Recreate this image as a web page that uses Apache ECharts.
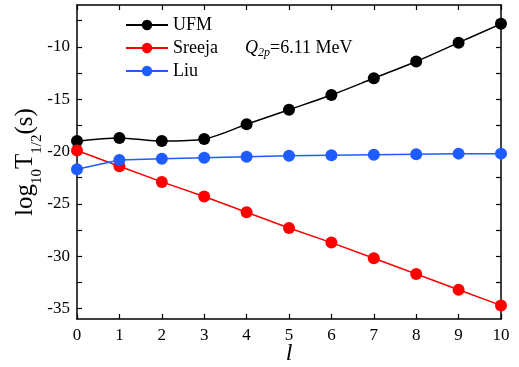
<!DOCTYPE html>
<html><head><meta charset="utf-8">
<script src="https://cdn.jsdelivr.net/npm/echarts@6/dist/echarts.min.js"></script>
<style>html,body{margin:0;padding:0;background:#fff}#c{width:519px;height:367px}</style>
</head><body><div id="c"></div>
<script>
var categories = [0,1,2,3,4,5,6,7,8,9,10];
var ufm    = [-19.0,-18.7,-19.0,-18.8,-17.4,-16.0,-14.6,-13.0,-11.4,-9.6,-7.8];
var sreeja = [-19.9,-21.4,-22.9,-24.3,-25.8,-27.3,-28.7,-30.2,-31.7,-33.2,-34.7];
var liu    = [-21.7,-20.8,-20.7,-20.6,-20.5,-20.4,-20.35,-20.3,-20.25,-20.2,-20.2];
var yTicks = [-35,-30,-25,-20,-15,-10];
var yMinorTicks = [-35,-32.5,-30,-27.5,-25,-22.5,-20,-17.5,-15,-12.5,-10,-7.5];

function pairs(v){ return categories.map(function(x,i){ return [x, v[i]]; }); }
var FONT = '"Liberation Serif","Times New Roman",serif';
var chart = echarts.init(document.getElementById('c'));
var axisLine = {show:true,onZero:false,lineStyle:{color:'#000',width:1.5}};
var xTick = {show:true,inside:true,length:5,lineStyle:{color:'#000',width:1.2}};
var yTick = {show:true,inside:true,length:5,customValues:yMinorTicks,lineStyle:{color:'#000',width:1.2}};
chart.setOption({
  animation:false,
  grid:{left:77,right:18,top:5,bottom:48,containLabel:false,outerBoundsMode:'none'},
  legend:{
    left:120, top:11, orient:'vertical', itemGap:5, itemWidth:42, itemHeight:13,
    textStyle:{fontFamily:FONT,fontSize:18,color:'#000'},
    data:['UFM','Sreeja','Liu']
  },
  xAxis:[
    {type:'value',min:0,max:10,interval:1,position:'bottom',axisLine:axisLine,axisTick:xTick,splitLine:{show:false},
      axisLabel:{fontFamily:FONT,fontSize:17,color:'#000',margin:8},
      name:'l',nameLocation:'middle',nameGap:23,nameMoveOverlap:false,
      nameTextStyle:{fontFamily:FONT,fontSize:24,fontStyle:'italic',color:'#000'}},
    {type:'value',min:0,max:10,interval:1,position:'top',axisLine:axisLine,axisTick:xTick,splitLine:{show:false},
      axisLabel:{show:false}}
  ],
  yAxis:[
    {type:'value',min:-36,max:-6,position:'left',axisLine:axisLine,axisTick:yTick,splitLine:{show:false},
      axisLabel:{fontFamily:FONT,fontSize:17,color:'#000',margin:7,customValues:yTicks},
      name:'{m|log}{s|10}{m|T}{s|1/2}{m|(s)}',nameLocation:'middle',nameGap:32,nameMoveOverlap:false,
      nameTextStyle:{color:'#000',rich:{
        m:{fontFamily:FONT,fontSize:25,color:'#000',lineHeight:32,verticalAlign:'top'},
        s:{fontFamily:FONT,fontSize:15,color:'#000',lineHeight:14,verticalAlign:'bottom'}}}
    },
    {type:'value',min:-36,max:-6,position:'right',axisLine:axisLine,axisTick:yTick,splitLine:{show:false},
      axisLabel:{show:false}}
  ],
  graphic:[{
    type:'text', left:245, top:39,
    style:{
      text:'{q|Q}{s|2p}{t|=6.11 MeV}',
      rich:{
        q:{fontFamily:FONT,fontSize:18,fontStyle:'italic',fill:'#000',lineHeight:20,verticalAlign:'top'},
        s:{fontFamily:FONT,fontSize:12,fontStyle:'italic',fill:'#000',lineHeight:12,verticalAlign:'bottom'},
        t:{fontFamily:FONT,fontSize:18,fill:'#000',lineHeight:20,verticalAlign:'top'}
      }
    }
  }],
  series:[
    {name:'UFM',type:'line',data:pairs(ufm),smooth:0.3,symbol:'circle',symbolSize:12,
      itemStyle:{color:'#000'},lineStyle:{color:'#000',width:1.5}},
    {name:'Sreeja',type:'line',data:pairs(sreeja),symbol:'circle',symbolSize:12,
      itemStyle:{color:'#ff0000'},lineStyle:{color:'#ff0000',width:1.5}},
    {name:'Liu',type:'line',data:pairs(liu),symbol:'circle',symbolSize:12,
      itemStyle:{color:'#1f5cff'},lineStyle:{color:'#1f5cff',width:1.5}}
  ]
});
</script></body></html>
